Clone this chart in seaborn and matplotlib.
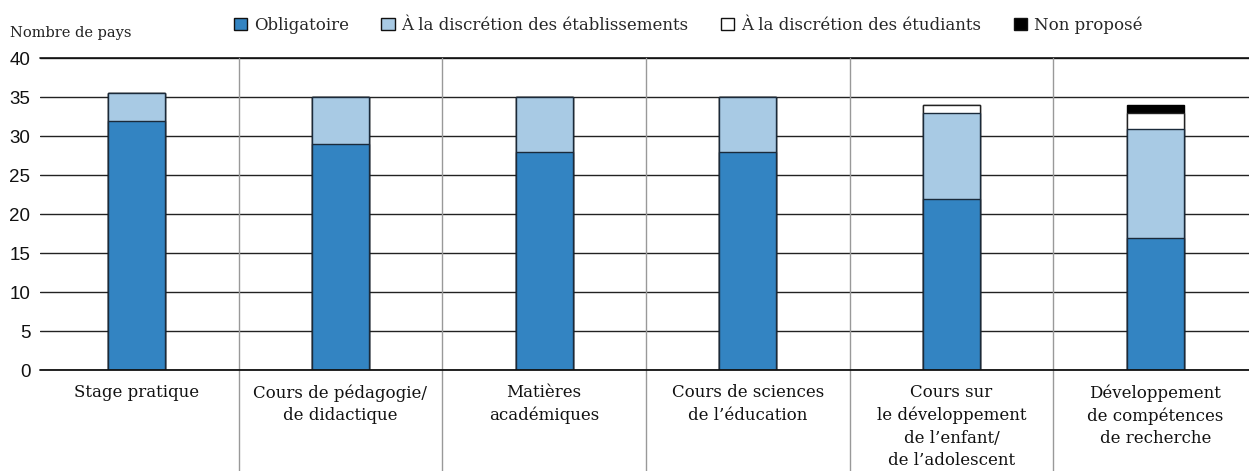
import matplotlib
matplotlib.use("Agg")
import matplotlib.pyplot as plt
import matplotlib.transforms as mtransforms
from matplotlib.patches import Patch
import seaborn as sns
import pandas as pd

categories = [
    "Stage pratique",
    "Cours de pédagogie/\nde didactique",
    "Matières\nacadémiques",
    "Cours de sciences\nde l\u2019éducation",
    "Cours sur\nle développement\nde l\u2019enfant/\nde l\u2019adolescent",
    "Développement\nde compétences\nde recherche",
]
obligatoire = [32, 29, 28, 28, 22, 17]
discretion_etab = [3.6, 6, 7, 7, 11, 14]
discretion_etud = [0, 0, 0, 0, 1, 2]
non_propose = [0, 0, 0, 0, 0, 1]

series_names = ["Obligatoire", "À la discrétion des établissements",
                "À la discrétion des étudiants", "Non proposé"]
colors = ["#3384c2", "#a8cae4", "#ffffff", "#000000"]
edges = ["#1a2a3a", "#1a2a3a", "#222222", "#000000"]

sns.set_theme(style="white")
plt.rcParams["font.family"] = ["DejaVu Serif", "Liberation Serif"]

fig = plt.figure(figsize=(12.49, 4.71), dpi=100)
ax = fig.add_axes([40 / 1249, 1 - 370.3 / 471, 1 - 40 / 1249, 312 / 471])

cum1 = obligatoire
cum2 = [a + b for a, b in zip(cum1, discretion_etab)]
cum3 = [a + b for a, b in zip(cum2, discretion_etud)]
cum4 = [a + b for a, b in zip(cum3, non_propose)]
layers = [cum4, cum3, cum2, cum1]
layer_idx = [3, 2, 1, 0]

for vals, i in zip(layers, layer_idx):
    df = pd.DataFrame({"cat": categories, "val": vals})
    sns.barplot(data=df, x="cat", y="val", order=categories, color=colors[i],
                saturation=1, width=0.28, edgecolor=edges[i], linewidth=1.0,
                ax=ax, zorder=3)

ax.set_xlim(-0.475, 5.46)
ax.set_ylim(0, 40)
ax.set_yticks(range(0, 41, 5))
ax.set_yticklabels([str(v) for v in range(0, 41, 5)],
                   family=["Liberation Sans", "DejaVu Sans"], fontsize=13.5)
ax.set_xlabel("")
ax.set_ylabel("")
for s in ax.spines.values():
    s.set_visible(False)
ax.yaxis.grid(True, color="#222222", linewidth=1.0, zorder=1)
ax.set_axisbelow(True)
ax.axhline(0, color="#111111", linewidth=1.3, clip_on=False, zorder=4)
ax.axhline(40, color="#111111", linewidth=1.2, clip_on=False, zorder=1)
ax.tick_params(axis="y", length=0, pad=7, colors="#111111")
ax.tick_params(axis="x", length=0, pad=10)
for lbl in ax.get_xticklabels():
    lbl.set_fontsize(12)
    lbl.set_linespacing(1.42)
    lbl.set_verticalalignment("top")
    lbl.set_color("#111111")

trans = mtransforms.blended_transform_factory(ax.transData, ax.transAxes)
for k in range(len(categories) - 1):
    ax.plot([k + 0.5, k + 0.5], [-0.33, 1.0], transform=trans, color="#999999",
            linewidth=1.0, clip_on=False, zorder=2)

fig.text(10 / 1249, 1 - 33 / 471, "Nombre de pays", fontsize=10.5, va="center",
         ha="left", color="#222222")

handles = [Patch(facecolor=colors[i], edgecolor="#111111", linewidth=1.0)
           for i in range(4)]
fig.legend(handles, series_names, loc="center", ncol=4,
           bbox_to_anchor=(688 / 1249, 1 - 25 / 471), frameon=False,
           fontsize=12, handlelength=0.8, handleheight=0.8, handletextpad=0.4,
           columnspacing=1.95, borderpad=0)

fig.savefig("out.png", dpi=100)
